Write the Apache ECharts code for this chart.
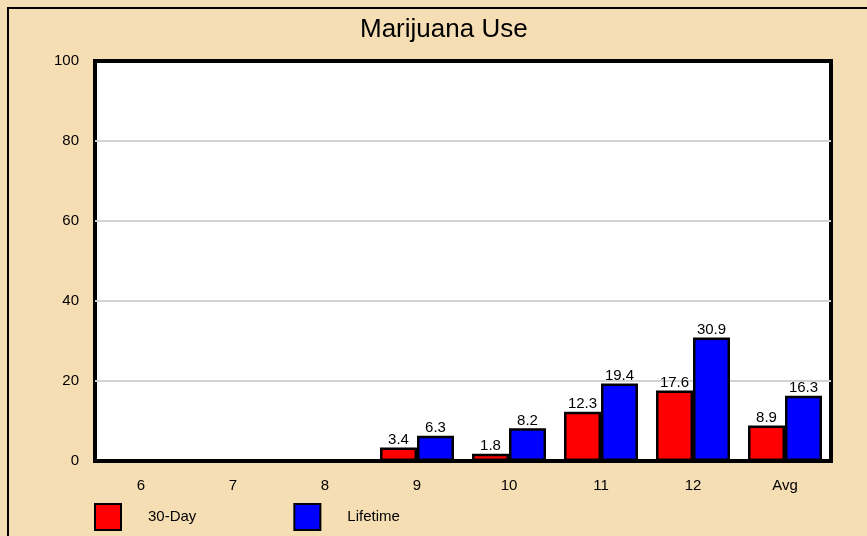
<!DOCTYPE html>
<html>
<head>
<meta charset="utf-8">
<script src="https://cdn.jsdelivr.net/npm/echarts@6/dist/echarts.min.js"></script>
<style>
html, body { margin: 0; padding: 0; background: #F5DEB3; }
#chart { width: 867px; height: 536px; }
</style>
</head>
<body>
<div id="chart"></div>
<script>
var grades = ['6', '7', '8', '9', '10', '11', '12', 'Avg'];
var thirtyDay = [null, null, null, 3.4, 1.8, 12.3, 17.6, 8.9];
var lifetime = [null, null, null, 6.3, 8.2, 19.4, 30.9, 16.3];
var yTicks = [0, 20, 40, 60, 80, 100];

var myChart = echarts.init(document.getElementById('chart'));

var font = 'Arial, Liberation Sans, sans-serif';

var labelStyle = {
    show: true,
    position: 'top',
    distance: 0,
    color: '#000',
    fontFamily: font,
    fontSize: 15
};

option = {
    backgroundColor: '#F5DEB3',
    animation: false,
    title: {
        text: 'Marijuana Use',
        left: 355,
        top: 12,
        textStyle: {
            fontFamily: font,
            fontSize: 26,
            fontWeight: 'normal',
            color: '#000'
        }
    },
    graphic: [{
        type: 'rect',
        shape: { x: 8, y: 8, width: 1000, height: 1000 },
        style: { fill: 'none', stroke: '#000', lineWidth: 2 },
        z: 100
    }],
    legend: {
        left: 89,
        top: 498,
        itemWidth: 26,
        itemHeight: 26,
        itemGap: 97,
        icon: 'rect',
        itemStyle: { borderColor: '#000', borderWidth: 2 },
        textStyle: {
            fontFamily: font,
            fontSize: 15,
            color: '#000',
            padding: [0, 0, 0, 22]
        },
        data: ['30-Day', 'Lifetime']
    },
    grid: {
        left: 95,
        right: 36,
        top: 61,
        bottom: 75,
        show: true,
        backgroundColor: '#fff',
        borderColor: '#000',
        borderWidth: 4
    },
    xAxis: {
        type: 'category',
        data: grades,
        axisLine: { show: false },
        axisTick: { show: false },
        axisLabel: {
            margin: 17,
            color: '#000',
            fontFamily: font,
            fontSize: 15
        }
    },
    yAxis: {
        type: 'value',
        min: yTicks[0],
        max: yTicks[yTicks.length - 1],
        interval: 20,
        axisLine: { show: false },
        axisTick: { show: false },
        axisLabel: {
            margin: 16,
            color: '#000',
            fontFamily: font,
            fontSize: 15
        },
        splitLine: {
            showMinLine: false,
            showMaxLine: false,
            lineStyle: { color: '#d3d3d3', width: 2 }
        }
    },
    series: [{
        name: '30-Day',
        type: 'bar',
        data: thirtyDay,
        barWidth: 37,
        barGap: '0%',
        itemStyle: { color: '#ff0000', borderColor: '#000', borderWidth: 2.5 },
        label: labelStyle
    }, {
        name: 'Lifetime',
        type: 'bar',
        data: lifetime,
        barWidth: 37,
        itemStyle: { color: '#0000ff', borderColor: '#000', borderWidth: 2.5 },
        label: labelStyle
    }]
};

myChart.setOption(option);
</script>
</body>
</html>
